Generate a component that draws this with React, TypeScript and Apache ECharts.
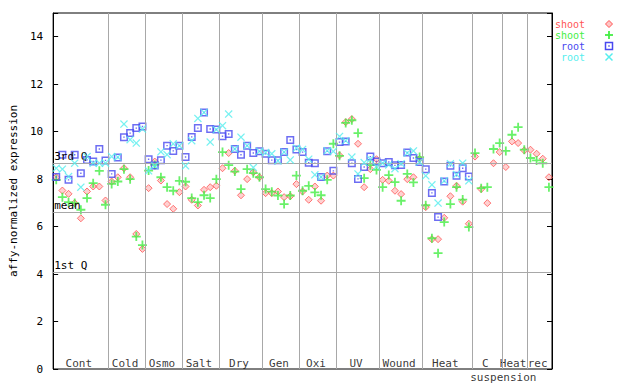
import React, { useEffect, useRef } from "react";
import * as echarts from "echarts";

const groupNames = ["Cont", "Cold", "Osmo", "Salt", "Dry", "Gen", "Oxi", "UV", "Wound", "Heat", "C suspension", "Heat", "rec"];
const groupSizes = [9, 6, 6, 6, 7, 6, 6, 7, 7, 8, 5, 4, 4];

const shootRep1 = [
  8.08, 7.52, 7.38, 6.99, 6.35, 7.48, 7.69, 7.69, 7.10,
  7.90, 8.08, 8.46, 8.08, 5.69, 5.06,
  7.62, 8.74, 7.94, 6.95, 6.75, 7.45,
  7.69, 7.13, 6.89, 7.55, 7.66, 7.72,
  8.46, 9.10, 8.35, 7.32, 8.00, 8.29, 8.08,
  7.41, 7.41, 7.48, 7.24, 7.28, 7.79,
  7.48, 7.13, 7.69, 7.09, 8.15, 8.15,
  9.00, 10.40, 10.53, 9.49, 7.66, 8.42, 8.84,
  7.97, 7.93, 7.51, 7.37, 8.00, 8.08, 8.85,
  6.82, 5.47, 5.47, 6.37, 7.28, 7.72, 7.05, 6.12,
  8.95, 7.58, 6.99, 8.67, 9.14,
  8.51, 9.59, 9.52, 9.21,
  9.24, 9.07, 8.86, 8.08,
];
const shootRep2 = [
  7.97, 7.24, 7.03, 6.99, 6.71, 7.20, 7.83, 8.35, 6.92,
  7.80, 7.90, 8.42, 8.00, 5.58, 5.22,
  8.36, 8.60, 8.08, 7.66, 7.51, 7.93,
  7.89, 7.20, 7.03, 7.32, 7.20, 8.00,
  9.14, 8.59, 8.32, 7.58, 8.42, 8.25, 8.08,
  7.58, 7.47, 7.31, 6.95, 7.31, 8.15,
  7.51, 7.72, 7.44, 7.32, 7.97, 9.49,
  8.98, 10.37, 10.48, 9.94, 8.04, 8.59, 8.39,
  7.66, 8.17, 7.87, 7.09, 8.22, 7.86, 8.93,
  6.90, 5.51, 4.88, 6.19, 6.95, 7.66, 7.14, 5.98,
  9.10, 7.62, 7.66, 9.27, 9.52,
  9.19, 9.87, 10.19, 9.24,
  8.89, 8.79, 8.67, 7.66,
];
const rootRep1 = [
  8.09, 9.03, 7.97, 9.03, 8.25, 8.81, 8.74, 9.27, 8.79,
  8.22, 8.91, 9.77, 9.94, 10.15, 10.22,
  8.84, 8.57, 8.80, 9.41, 9.19, 9.41,
  8.93, 9.78, 10.15, 10.81, 10.11, 10.09,
  9.81, 9.90, 9.27, 9.03, 9.41, 9.10, 9.17,
  9.07, 8.80, 8.80, 9.14, 9.65, 9.25,
  9.14, 8.69, 8.67, 8.09, 9.17, 8.35,
  9.56, 9.59, 8.67, 8.01, 8.51, 8.95, 8.74,
  8.67, 8.72, 8.58, 8.60, 9.12, 8.89, 8.72,
  8.42, 7.42, 6.40, 7.90, 8.56, 8.14, 8.46, 8.11,
];
const rootRep2 = [
  8.46, 8.42, 8.11, 8.67, 7.66, 8.95, 8.67, 8.67, 8.67,
  8.95, 8.93, 10.32, 9.66, 9.52, 10.11,
  8.35, 8.57, 9.15, 9.03, 9.49, 9.41,
  8.56, 9.62, 10.56, 10.81, 9.56, 10.09,
  10.25, 10.74, 9.27, 9.77, 9.41, 8.49, 9.17,
  9.12, 9.07, 8.77, 9.14, 8.81, 9.31,
  9.25, 8.84, 8.18, 8.09, 9.20, 9.17,
  9.80, 9.62, 8.93, 8.22, 8.70, 8.84, 8.53,
  8.67, 8.60, 8.44, 8.65, 9.10, 9.19, 8.72,
  8.14, 7.76, 6.99, 7.93, 8.65, 8.20, 8.67, 7.93,
];

const refNames = ["3rd Q", "mean", "1st Q"];
const refValues = [8.68, 6.61, 4.08];

const seriesNames = ["shoot", "shoot", "root", "root"];
const seriesColors = ["#ff5555", "#44ee44", "#4848f0", "#55eeee"];

const FF = "'DejaVu Sans Mono', monospace";

const SYM_PLUS = "path://M3.6,0H5.4V3.6H9V5.4H5.4V9H3.6V5.4H0V3.6H3.6Z";
const SYM_SQUARE = "path://M0,0H8V8H0Z M1.5,1.5V6.5H6.5V1.5Z M3.3,3.3H4.7V4.7H3.3Z";
const SYM_X = "path://M0,1L1,0L4.5,3.5L8,0L9,1L5.5,4.5L9,8L8,9L4.5,5.5L1,9L0,8L3.5,4.5Z";

export default function App() {
  const ref = useRef<HTMLDivElement>(null);

  useEffect(() => {
    if (!ref.current) return;
    const chart = echarts.init(ref.current, undefined, { renderer: "svg" });

    const boundaries: number[] = [];
    const centers: number[] = [];
    let start = 0.5;
    groupSizes.forEach((n) => {
      centers.push(start + n / 2);
      start += n;
      boundaries.push(start);
    });
    boundaries.pop();

    const groupLabelData: any[] = [];
    groupNames.forEach((name, k) => {
      const parts = name.split(" ");
      groupLabelData.push({
        value: [centers[k], 0],
        label: { formatter: parts[0], offset: [-2, -6] },
      });
      if (parts.length > 1) {
        groupLabelData.push({
          value: [centers[k], 0],
          label: { formatter: parts.slice(1).join(" "), offset: [16, 8] },
        });
      }
    });

    const toPts = (arr: number[]) => arr.map((v, i) => [i + 1, v]);

    const labelStyle = { color: "#000", fontFamily: FF, fontSize: 11 };

    const legendGraphics: any[] = [];
    const ly = [24, 35, 46, 57];
    const mx = 609;
    seriesNames.forEach((n, k) => {
      legendGraphics.push({
        type: "text",
        style: {
          text: n, x: 585, y: ly[k], textAlign: "right", textVerticalAlign: "middle",
          fill: seriesColors[k], font: `10px ${FF}`, lineHeight: 10,
        },
      });
    });
    legendGraphics.push({
      type: "polygon",
      shape: { points: [[mx, ly[0] - 3.5], [mx + 3.5, ly[0]], [mx, ly[0] + 3.5], [mx - 3.5, ly[0]]] },
      style: { fill: "rgba(255,85,85,0.35)", stroke: seriesColors[0], lineWidth: 1 },
    });
    legendGraphics.push({ type: "rect", shape: { x: mx - 4, y: ly[1] - 0.9, width: 8, height: 1.8 }, style: { fill: seriesColors[1] } });
    legendGraphics.push({ type: "rect", shape: { x: mx - 0.9, y: ly[1] - 4, width: 1.8, height: 8 }, style: { fill: seriesColors[1] } });
    legendGraphics.push({ type: "rect", shape: { x: mx - 3.5, y: ly[2] - 3.5, width: 7, height: 7 }, style: { fill: "none", stroke: seriesColors[2], lineWidth: 1.5 } });
    legendGraphics.push({ type: "rect", shape: { x: mx - 0.7, y: ly[2] - 0.7, width: 1.4, height: 1.4 }, style: { fill: seriesColors[2] } });
    legendGraphics.push({ type: "line", shape: { x1: mx - 3.5, y1: ly[3] - 3.5, x2: mx + 3.5, y2: ly[3] + 3.5 }, style: { stroke: seriesColors[3], lineWidth: 1.5 } });
    legendGraphics.push({ type: "line", shape: { x1: mx - 3.5, y1: ly[3] + 3.5, x2: mx + 3.5, y2: ly[3] - 3.5 }, style: { stroke: seriesColors[3], lineWidth: 1.5 } });

    const option: any = {
      animation: false,
      backgroundColor: "#fff",
      grid: {
        left: 44, top: 13, width: 508, height: 356,
        show: true, borderColor: "#000", borderWidth: 1, backgroundColor: "transparent",
      },
      xAxis: {
        type: "value", min: 0.5, max: 81.5,
        axisLine: { show: false }, axisTick: { show: false }, axisLabel: { show: false }, splitLine: { show: false },
      },
      yAxis: [
        {
          type: "value", min: 0, max: 15, interval: 2,
          axisLine: { show: true, lineStyle: { color: "#000" } },
          axisTick: { show: true, inside: true, length: 5, lineStyle: { color: "#000" } },
          axisLabel: {
            ...labelStyle, margin: 10,
            formatter: (v: number) => (v % 2 === 0 ? String(v) : ""),
          },
          splitLine: { show: false },
          name: "affy-normalized expression",
          nameLocation: "middle",
          nameGap: 32,
          nameTextStyle: labelStyle,
        },
        {
          type: "value", position: "right", min: 0, max: 15, interval: 2,
          axisLine: { show: true, lineStyle: { color: "#000" } },
          axisTick: { show: true, inside: true, length: 5, lineStyle: { color: "#000" } },
          axisLabel: { show: false },
          splitLine: { show: false },
        },
      ],
      graphic: legendGraphics,
      series: [
        {
          name: "groups",
          type: "scatter",
          z: 1,
          symbolSize: 0,
          silent: true,
          data: groupLabelData,
          label: { show: true, position: "inside", ...labelStyle },
          markLine: {
            silent: true,
            symbol: ["none", "none"],
            lineStyle: { color: "#a8a8a8", type: "solid", width: 1 },
            emphasis: { disabled: true },
            data: [
              ...boundaries.map((b) => ({ xAxis: b, label: { show: false } })),
              ...refNames.map((n, k) => ({
                yAxis: refValues[k],
                label: {
                  show: true, formatter: n, position: "insideStartTop", distance: [1, 1],
                  ...labelStyle,
                },
              })),
            ],
          },
        },
        {
          name: seriesNames[0], type: "scatter", z: 2, data: toPts(shootRep1),
          symbol: "diamond", symbolSize: 7,
          itemStyle: { color: "rgba(255,85,85,0.35)", borderColor: seriesColors[0], borderWidth: 1 },
        },
        {
          name: seriesNames[1], type: "scatter", z: 3, data: toPts(shootRep2),
          symbol: SYM_PLUS, symbolSize: 9, itemStyle: { color: seriesColors[1] },
        },
        {
          name: seriesNames[2], type: "scatter", z: 4, data: toPts(rootRep1),
          symbol: SYM_SQUARE, symbolSize: 8, itemStyle: { color: seriesColors[2] },
        },
        {
          name: seriesNames[3], type: "scatter", z: 5, data: toPts(rootRep2),
          symbol: SYM_X, symbolSize: 8, itemStyle: { color: seriesColors[3] },
        },
      ],
    };

    chart.setOption(option);
    return () => chart.dispose();
  }, []);

  return (
    <div
      ref={ref}
      style={{ position: "fixed", left: 0, top: 0, width: 640, height: 384, background: "#fff" }}
    />
  );
}
